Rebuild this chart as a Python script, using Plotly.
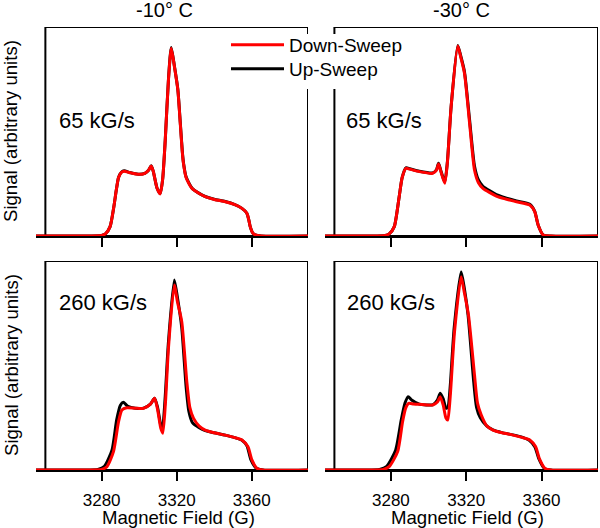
import plotly.graph_objects as go

# ---------------- data (Field in G, Signal in arbitrary units) ----------------
tl_down_x = [3245, 3270, 3280, 3282, 3284.5, 3286.5, 3287.8, 3289, 3290.5, 3292, 3295, 3299.6, 3303, 3305, 3306.4, 3307.5, 3309.5, 3311.2, 3312.5, 3313.9, 3315.6, 3317.1, 3318.8, 3320.6, 3321.9, 3323, 3323.6, 3325, 3328.1, 3332, 3335.2, 3340, 3345.9, 3351, 3354.8, 3357.4, 3358.5, 3359.2, 3360.5, 3361.9, 3365, 3390]
tl_down_y = [0, 0, 0.3, 1, 4.5, 14, 22, 28, 30.5, 31, 30.3, 29.5, 30, 31.5, 33.5, 31, 23, 20.1, 27, 45.9, 74.6, 89.8, 81, 70, 54, 40, 34.8, 28, 22.8, 20.3, 18.8, 17.5, 16.4, 15, 13.2, 10.9, 7.5, 4.5, 1.5, 0.5, 0, 0]
tl_up_x = tl_down_x
tl_up_y = [0, 0, 0.3, 1, 4.5, 14, 22, 28, 30.5, 31.2, 30.4, 29.6, 30, 31.5, 33.6, 31, 23, 20.3, 27, 46, 74.8, 90.2, 81.2, 70.2, 54.5, 40.5, 35.2, 28.3, 23, 20.4, 18.9, 17.6, 16.5, 15, 13.2, 10.9, 7.5, 4.5, 1.5, 0.5, 0, 0]

tr_down_x = [3245, 3270, 3277, 3279.1, 3281.8, 3284.4, 3286, 3288, 3290, 3295.1, 3302.2, 3304.2, 3305.3, 3306.5, 3308.6, 3310, 3312, 3315.5, 3317, 3319.1, 3321.8, 3324.4, 3326.5, 3328.9, 3336, 3341, 3346.7, 3353.8, 3356.4, 3358.2, 3360.9, 3365, 3390]
tr_down_y = [0, 0, 0.3, 1, 4.5, 18.8, 28, 32.4, 32, 30.8, 30, 31.5, 34.4, 31, 25.2, 35, 61.9, 90.9, 86, 77.8, 53.9, 31.6, 25.5, 22.8, 19.1, 17.7, 16.4, 14.8, 11.6, 5.3, 0.5, 0, 0]
tr_up_x = tr_down_x
tr_up_y = [0, 0, 0.3, 1, 4.5, 18.8, 28, 32.6, 32.2, 31, 30.2, 31.7, 34.8, 31.4, 25.8, 35.5, 62, 91.2, 86.5, 78.5, 55.5, 33.5, 26.8, 23.8, 19.8, 18.2, 16.8, 15.2, 11.8, 5.3, 0.5, 0, 0]

bl_down_x = [3245, 3270, 3280, 3282.8, 3286.3, 3289, 3290.8, 3293.4, 3298, 3302.3, 3306, 3308.2, 3309.8, 3311.5, 3312.6, 3314, 3315.6, 3318.7, 3320.5, 3322.7, 3325.4, 3327, 3329, 3332, 3335.2, 3340, 3345.9, 3351, 3354.8, 3358, 3360.1, 3362.8, 3366, 3390]
bl_down_y = [0, 0, 0.3, 1.6, 8.8, 23.1, 28.7, 29.8, 29.6, 29.5, 31.5, 34.3, 29, 20, 17.6, 32, 58.2, 88.5, 80, 71, 42.2, 30, 24.7, 21, 19.1, 17.8, 16.7, 15.5, 14.4, 11.1, 4.8, 0.8, 0, 0]
bl_up_x = [3245, 3270, 3278, 3281.5, 3285.5, 3288, 3290, 3291.5, 3294, 3298, 3302.3, 3306, 3308.2, 3309.8, 3311.5, 3312.4, 3313.8, 3315.5, 3318.7, 3320.5, 3322.7, 3325, 3326.5, 3328.5, 3332, 3335.2, 3340, 3345.9, 3351, 3354.8, 3357.5, 3359.6, 3362.5, 3366, 3390]
bl_up_y = [0, 0, 0.3, 1.8, 9.5, 24, 31, 32.4, 30.5, 29.6, 29.6, 31.5, 34.3, 30, 21.5, 20, 34, 60, 90.9, 82, 68, 40, 28, 22.5, 20.2, 18.8, 17.8, 16.7, 15.5, 14.2, 11.5, 4.8, 0.8, 0, 0]

br_down_x = [3245, 3268, 3276, 3279.1, 3283.6, 3286.2, 3287.8, 3289.4, 3292, 3295.1, 3302.2, 3304.7, 3306.2, 3307.8, 3309.2, 3310.2, 3311.5, 3313.8, 3317.3, 3319, 3321.2, 3324.4, 3326, 3328, 3331, 3334.2, 3339, 3344.9, 3350, 3353.8, 3356.9, 3358.8, 3361.8, 3365, 3390]
br_down_y = [0, 0, 0.3, 1.6, 8.8, 23.1, 29.5, 31.9, 31.6, 31.4, 31.1, 32.5, 35.1, 31, 25, 23.9, 35, 66.2, 92.5, 85, 74.2, 45.5, 32, 26.3, 21, 19.1, 17.8, 16.7, 15.5, 14.4, 11.1, 5.6, 0.8, 0, 0]
br_up_x = [3245, 3266, 3274, 3277.8, 3282.5, 3285.5, 3287.5, 3289.2, 3291, 3295.1, 3302.2, 3304.7, 3306.2, 3307.8, 3309.3, 3310.3, 3311.5, 3313.6, 3317.3, 3319, 3321, 3324, 3325.5, 3327.5, 3331, 3334.2, 3339, 3344.9, 3350, 3353.5, 3356.5, 3358.5, 3361.5, 3365, 3390]
br_up_y = [0, 0, 0.3, 1.8, 9.5, 24, 32, 35.1, 33.5, 31.5, 31.2, 33.5, 36.7, 34, 29.5, 30, 40, 68, 94.9, 87, 74, 42, 30, 25, 21, 19.2, 17.9, 16.8, 15.6, 14.2, 11, 5.6, 0.8, 0, 0]

col_titles = ["-10° C", "-30° C"]
rate_labels = ["65 kG/s", "260 kG/s"]
series_names = ["Down-Sweep", "Up-Sweep"]
tick_vals = [3280, 3320, 3360]
tick_text = ["3280", "3320", "3360"]
x_title = "Magnetic Field (G)"
y_title = "Signal (arbitrary units)"

FONT = "Liberation Sans, Arial, sans-serif"
RED = "#ff0000"
BLACK = "#000000"
W, H = 600, 528

panels = [
    ("x", "y", (tl_down_x, tl_down_y), (tl_up_x, tl_up_y)),
    ("x2", "y2", (tr_down_x, tr_down_y), (tr_up_x, tr_up_y)),
    ("x3", "y3", (bl_down_x, bl_down_y), (bl_up_x, bl_up_y)),
    ("x4", "y4", (br_down_x, br_down_y), (br_up_x, br_up_y)),
]

fig = go.Figure()
for i, (xa, ya, down, up) in enumerate(panels):
    fig.add_trace(go.Scatter(x=up[0], y=up[1], xaxis=xa, yaxis=ya, mode="lines",
                             line=dict(color=BLACK, width=3, shape="spline", smoothing=0.6),
                             name=series_names[1], showlegend=(i == 0), legend="legend2"))
    fig.add_trace(go.Scatter(x=down[0], y=down[1], xaxis=xa, yaxis=ya, mode="lines",
                             line=dict(color=RED, width=3, shape="spline", smoothing=0.6),
                             name=series_names[0], showlegend=(i == 0), legend="legend"))

def px_x(p):
    return p / W

def px_y(p):
    return (H - p) / H

xdoms = [[px_x(36), px_x(308)], [px_x(325), px_x(598)]]
ydoms = [[px_y(236), px_y(27)], [px_y(470), px_y(261)]]

leg_common = dict(xanchor="left", yanchor="top", bgcolor="rgba(0,0,0,0)", borderwidth=0,
                  font=dict(size=19, family=FONT), itemwidth=53)
layout = dict(
    width=W, height=H, margin=dict(l=0, r=0, t=0, b=0),
    paper_bgcolor="white", plot_bgcolor="white",
    font=dict(family=FONT, color="black"),
    showlegend=True,
    legend=dict(x=px_x(226), y=px_y(26), **leg_common),
    legend2=dict(x=px_x(226), y=px_y(50), **leg_common),
)
shapes = []
for k in range(4):
    r, c = divmod(k, 2)
    sx = "" if k == 0 else str(k + 1)
    layout["xaxis" + sx] = dict(
        domain=xdoms[c], anchor="y" + sx, range=[3245, 3390],
        showgrid=False, zeroline=False, showline=True, linecolor="black", linewidth=2,
        ticks="outside", ticklen=9, tickwidth=2, tickcolor="black",
        tickvals=tick_vals, ticktext=tick_text, showticklabels=(r == 1),
        tickfont=dict(size=17, family=FONT), ticklabelstandoff=5,
    )
    layout["yaxis" + sx] = dict(
        domain=ydoms[r], anchor="x" + sx, range=[0, 100],
        showgrid=False, zeroline=False, showline=False, showticklabels=False, ticks="",
    )
    shapes.append(dict(type="rect", xref="x" + sx, yref="y" + sx, x0=3250, x1=3390, y0=0, y1=100,
                       line=dict(color="black", width=2), fillcolor="rgba(0,0,0,0)", layer="below"))
# white patch behind the legend, which interrupts the inner spines as in the reference
shapes.append(dict(type="rect", xref="paper", yref="paper", x0=px_x(296), x1=px_x(346),
                   y0=px_y(89), y1=px_y(34), line=dict(width=0), fillcolor="white", layer="above"))

annotations = []
for c in range(2):
    annotations.append(dict(text=col_titles[c], x=px_x([164, 461][c]), y=px_y(10), xref="paper", yref="paper",
                            showarrow=False, xanchor="center", yanchor="middle", font=dict(size=20, family=FONT)))
    annotations.append(dict(text=x_title, x=px_x([178, 467][c]), y=px_y(517), xref="paper", yref="paper",
                            showarrow=False, xanchor="center", yanchor="middle", font=dict(size=18.6, family=FONT)))
rate_pos = [(57, 120), (344, 120), (57, 302), (345, 302)]
for k, (px, py) in enumerate(rate_pos):
    annotations.append(dict(text=rate_labels[k // 2], x=px_x(px), y=px_y(py), xref="paper", yref="paper",
                            showarrow=False, xanchor="left", yanchor="middle", font=dict(size=22, family=FONT)))
for r, cy in enumerate([131, 365]):
    annotations.append(dict(text=y_title, x=px_x(11), y=px_y(cy), xref="paper", yref="paper",
                            showarrow=False, xanchor="center", yanchor="middle", textangle=-90,
                            font=dict(size=18.6, family=FONT)))

layout["shapes"] = shapes
layout["annotations"] = annotations
fig.update_layout(**layout)
fig.write_html("out.html", config={"displayModeBar": False},
               post_script="document.body.style.margin='0px';document.body.style.overflow='hidden';")
